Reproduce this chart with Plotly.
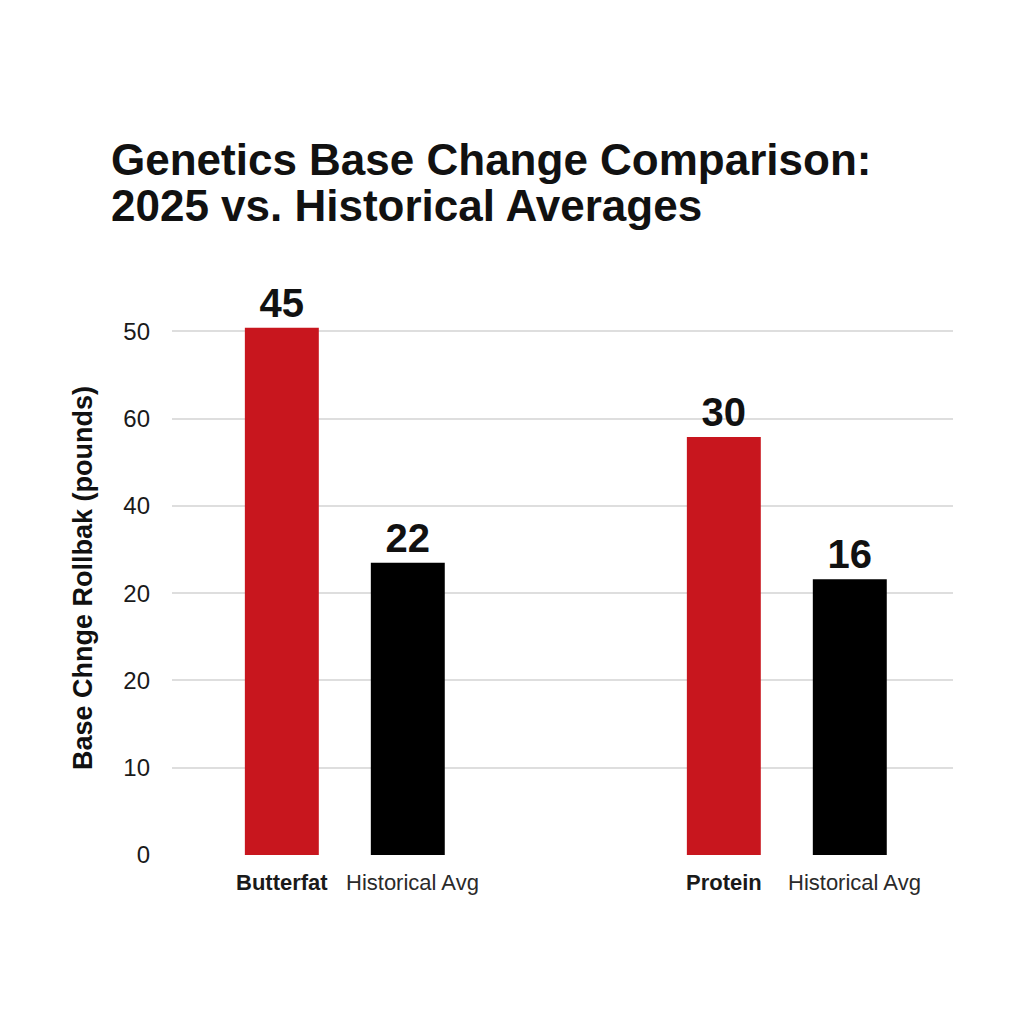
import plotly.graph_objects as go

# ---- data ----
groups = ["Butterfat", "Protein"]
series_names = ["2025", "Historical Avg"]
bar_heights_2025 = [60.4, 47.9]        # drawn bar heights (axis units)
bar_heights_hist = [33.5, 31.6]
bar_labels_2025 = ["45", "30"]         # value labels printed above bars
bar_labels_hist = ["22", "16"]
xlabels_2025 = ["Butterfat", "Protein"]
xlabels_hist = ["Historical Avg", "Historical Avg"]
ytick_vals = [0, 10, 20, 30, 40, 50, 60]
ytick_text = ["0", "10", "20", "20", "40", "60", "50"]
title_lines = ["Genetics Base Change Comparison:", "2025 vs. Historical Averages"]
y_title = "Base Chnge Rollbak (pounds)"

RED = "#C8161E"
BLACK = "#000000"
FONT = "Liberation Sans, Arial, sans-serif"

fig = go.Figure()
for name, ys, labs, col in [(series_names[0], bar_heights_2025, bar_labels_2025, RED),
                            (series_names[1], bar_heights_hist, bar_labels_hist, BLACK)]:
    fig.add_trace(go.Bar(
        name=name, x=groups, y=ys,
        marker=dict(color=col, line=dict(width=0)),
        text=labs, textposition="outside",
        outsidetextfont=dict(family=FONT, size=40, color="#111111", weight="bold"),
        cliponaxis=False,
    ))

annotations = []
for g, lab in zip(groups, xlabels_2025):
    annotations.append(dict(
        x=g, xref="x", y=0, yref="paper", yanchor="top", xanchor="center",
        xshift=-63, yshift=-13, showarrow=False, text=f"<b>{lab}</b>",
        font=dict(family=FONT, size=22, color="#1a1a1a")))
for g, lab in zip(groups, xlabels_hist):
    annotations.append(dict(
        x=g, xref="x", y=0, yref="paper", yanchor="top", xanchor="center",
        xshift=68, yshift=-13, showarrow=False, text=lab,
        font=dict(family=FONT, size=22, color="#2a2a2a")))
# two-line title, placed as separate lines for tight line spacing
for line, ysh in zip(title_lines, [168, 122]):
    annotations.append(dict(
        x=0, xref="paper", y=1, yref="paper", xanchor="left", yanchor="middle",
        xshift=-63, yshift=ysh, showarrow=False, text=f"<b>{line}</b>",
        font=dict(family=FONT, size=44, color="#111111")))
# y-axis title
annotations.append(dict(
    x=0, xref="paper", y=0.5, yref="paper", xanchor="center", yanchor="middle",
    xshift=-89, yshift=13, textangle=-90, showarrow=False, text=f"<b>{y_title}</b>",
    font=dict(family=FONT, size=27, color="#111111")))

fig.update_layout(
    width=1024, height=1024,
    paper_bgcolor="white", plot_bgcolor="white",
    margin=dict(l=164, r=79, t=319, b=177),
    barmode="group", bargap=0.43, bargroupgap=0.413,
    showlegend=False,
    xaxis=dict(
        range=[-0.391, 1.376], showticklabels=False, showgrid=False,
        zeroline=False, showline=False, ticks="",
    ),
    yaxis=dict(
        range=[0, 60.5], tickvals=ytick_vals, ticktext=ytick_text,
        showgrid=True, gridcolor="#dedede", gridwidth=1.5,
        zeroline=False, showline=False, ticks="", ticklabelstandoff=21,
        tickfont=dict(family=FONT, size=24, color="#1a1a1a"),
    ),
    annotations=annotations,
)

fig.write_html("out.html")
